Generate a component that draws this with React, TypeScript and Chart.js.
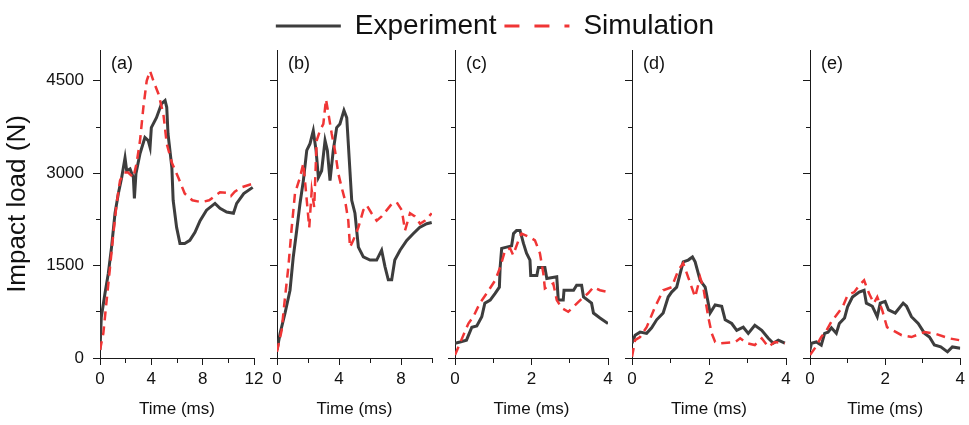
import React, { useEffect, useRef } from 'react';
import { Chart, registerables } from 'chart.js';

Chart.register(...registerables);

// ---------------- data ----------------
const SERIES_NAMES = ['Experiment', 'Simulation'];
const PANEL_LABELS = ['(a)', '(b)', '(c)', '(d)', '(e)'];
const X_MAXES = [12, 10, 4, 4, 4];

const X_TICKS_A = [0, 2, 4, 6, 8, 10, 12];
const X_LABELS_A = [0, 4, 8, 12];
const X_TICKS_B = [0, 2, 4, 6, 8, 10];
const X_LABELS_B = [0, 4, 8];
const X_TICKS_CDE = [0, 1, 2, 3, 4];
const X_LABELS_CDE = [0, 2, 4];

const Y_TICKS = [0, 750, 1500, 2250, 3000, 3750, 4500];
const Y_LABELS = [0, 1500, 3000, 4500];
const Y_MAX = 5000;

const A_EXP_T = [0, 0.1, 0.39, 0.65, 0.9, 1.17, 1.43, 1.69, 1.95, 2.08, 2.34, 2.6, 2.68, 2.8, 3.12, 3.5, 3.76, 3.9, 4.0, 4.4, 4.8, 5.07, 5.2, 5.3, 5.6, 5.7, 5.97, 6.23, 6.6, 7.0, 7.4, 7.8, 8.3, 8.96, 9.35, 9.87, 10.4, 10.65, 11.2, 11.9];
const A_EXP_V = [130, 660, 1050, 1375, 1800, 2350, 2670, 2930, 3250, 3040, 3070, 2930, 2590, 2990, 3320, 3580, 3530, 3420, 3740, 3900, 4130, 4180, 4070, 3640, 3090, 2560, 2120, 1860, 1860, 1910, 2040, 2230, 2400, 2510, 2430, 2370, 2350, 2510, 2670, 2770];
const A_SIM_T = [0, 0.26, 0.52, 0.78, 1.04, 1.3, 1.56, 1.87, 2.2, 2.6, 2.85, 3.12, 3.38, 3.64, 3.9, 4.16, 4.55, 4.94, 5.2, 5.6, 6.1, 6.6, 7.2, 7.9, 8.5, 9.35, 9.9, 10.2, 10.5, 11, 11.9];
const A_SIM_V = [130, 400, 940, 1470, 2020, 2510, 2880, 3010, 3010, 2930, 3160, 3530, 4070, 4500, 4660, 4500, 4290, 3960, 3480, 3170, 2930, 2670, 2560, 2530, 2560, 2690, 2680, 2630, 2700, 2770, 2830];

const B_EXP_T = [0, 0.2, 0.52, 0.84, 1.05, 1.27, 1.48, 1.7, 1.92, 2.13, 2.34, 2.52, 2.67, 2.88, 3.1, 3.25, 3.42, 3.63, 3.85, 4.06, 4.32, 4.5, 4.82, 5.03, 5.25, 5.57, 6.0, 6.43, 6.75, 6.97, 7.18, 7.4, 7.6, 7.94, 8.37, 8.8, 9.2, 9.66, 9.98];
const B_EXP_V = [130, 400, 730, 1100, 1640, 2070, 2500, 2880, 3370, 3480, 3690, 3370, 2930, 3040, 3530, 3370, 2880, 3370, 3740, 3800, 4020, 3900, 2560, 2350, 1800, 1640, 1590, 1590, 1750, 1480, 1270, 1270, 1590, 1750, 1910, 2020, 2120, 2180, 2200];
const B_SIM_T = [0, 0.3, 0.52, 0.73, 0.95, 1.16, 1.48, 1.7, 1.92, 2.08, 2.24, 2.4, 2.56, 2.77, 2.99, 3.16, 3.31, 3.53, 3.74, 3.96, 4.17, 4.39, 4.6, 4.71, 4.92, 5.25, 5.57, 5.79, 6.1, 6.43, 6.75, 7.08, 7.4, 7.72, 8.05, 8.26, 8.58, 8.9, 9.23, 9.55, 9.98];
const B_SIM_V = [100, 450, 990, 1470, 2120, 2670, 2930, 3160, 2560, 2120, 2720, 2450, 3530, 3690, 3800, 4200, 3980, 3640, 3370, 2990, 2770, 2560, 2230, 1800, 1910, 2120, 2400, 2480, 2350, 2230, 2300, 2400, 2500, 2530, 2400, 2070, 2350, 2300, 2180, 2230, 2350];

const C_EXP_T = [0, 0.13, 0.3, 0.44, 0.57, 0.7, 0.78, 0.92, 1.05, 1.16, 1.18, 1.22, 1.35, 1.48, 1.53, 1.61, 1.7, 1.79, 1.87, 1.96, 1.98, 2.14, 2.18, 2.35, 2.4, 2.66, 2.7, 2.83, 2.85, 3.1, 3.18, 3.31, 3.36, 3.57, 3.62, 3.79, 4.0];
const C_EXP_V = [240, 260, 290, 500, 520, 670, 890, 940, 1050, 1150, 1470, 1780, 1800, 1820, 2020, 2070, 2070, 1860, 1700, 1590, 1340, 1340, 1470, 1470, 1290, 1320, 940, 940, 1100, 1100, 1180, 1180, 990, 890, 730, 650, 560];
const C_SIM_T = [0, 0.13, 0.35, 0.48, 0.65, 0.83, 1.05, 1.18, 1.31, 1.44, 1.52, 1.66, 1.74, 1.96, 2.09, 2.22, 2.31, 2.35, 2.57, 2.66, 2.79, 2.96, 3.36, 3.48, 3.62, 3.79, 4.0];
const C_SIM_V = [50, 240, 560, 670, 890, 1050, 1260, 1470, 1750, 1780, 1670, 1910, 2020, 1960, 1910, 1700, 1370, 1130, 1210, 940, 810, 750, 990, 1050, 1150, 1100, 1070];

const D_EXP_T = [0, 0.08, 0.21, 0.38, 0.51, 0.64, 0.81, 0.94, 1.03, 1.16, 1.25, 1.33, 1.46, 1.57, 1.64, 1.77, 1.9, 2.03, 2.16, 2.33, 2.42, 2.59, 2.72, 2.89, 3.02, 3.19, 3.37, 3.54, 3.67, 3.8, 3.97];
const D_EXP_V = [240, 370, 420, 400, 490, 620, 730, 990, 1070, 1150, 1370, 1560, 1590, 1640, 1560, 1260, 1150, 730, 860, 840, 620, 560, 450, 500, 400, 530, 450, 320, 240, 290, 240];
const D_SIM_T = [0, 0.08, 0.21, 0.38, 0.6, 0.81, 1.03, 1.2, 1.33, 1.46, 1.64, 1.77, 1.85, 1.98, 2.07, 2.16, 2.29, 2.68, 2.81, 2.98, 3.19, 3.37, 3.54, 3.71, 3.97];
const D_SIM_V = [20, 290, 340, 500, 830, 1100, 1150, 1420, 1540, 1310, 990, 1310, 1150, 670, 400, 260, 240, 260, 320, 240, 210, 320, 180, 260, 240];

const E_EXP_T = [0, 0.04, 0.17, 0.3, 0.39, 0.48, 0.57, 0.7, 0.78, 0.92, 1.0, 1.13, 1.31, 1.44, 1.5, 1.66, 1.79, 1.87, 2.0, 2.09, 2.27, 2.48, 2.57, 2.7, 2.88, 3.05, 3.18, 3.31, 3.48, 3.66, 3.79, 4.0];
const E_EXP_V = [130, 240, 260, 210, 400, 420, 490, 400, 560, 650, 830, 990, 1070, 1100, 890, 840, 670, 890, 920, 780, 730, 890, 840, 670, 560, 400, 340, 210, 180, 100, 180, 160];
const E_SIM_T = [0, 0.13, 0.3, 0.44, 0.57, 0.87, 1.0, 1.18, 1.31, 1.44, 1.57, 1.7, 1.79, 1.92, 2.05, 2.44, 2.7, 3.05, 3.31, 3.7, 3.97];
const E_SIM_V = [50, 160, 340, 450, 590, 830, 1020, 1070, 1180, 1260, 1050, 890, 990, 780, 500, 370, 340, 420, 400, 320, 290];

const EXP_T = [A_EXP_T, B_EXP_T, C_EXP_T, D_EXP_T, E_EXP_T];
const EXP_V = [A_EXP_V, B_EXP_V, C_EXP_V, D_EXP_V, E_EXP_V];
const SIM_T = [A_SIM_T, B_SIM_T, C_SIM_T, D_SIM_T, E_SIM_T];
const SIM_V = [A_SIM_V, B_SIM_V, C_SIM_V, D_SIM_V, E_SIM_V];
const X_TICKS = [X_TICKS_A, X_TICKS_B, X_TICKS_CDE, X_TICKS_CDE, X_TICKS_CDE];
const X_LABELS = [X_LABELS_A, X_LABELS_B, X_LABELS_CDE, X_LABELS_CDE, X_LABELS_CDE];

// ---------------- layout & style ----------------
const W = 969;
const H = 425;
const PLOT_LEFT = [100, 277, 455, 632, 810];
const PLOT_RIGHT = [254, 432, 608, 786, 963];
const PLOT_TOP = 50;
const PLOT_BOTTOM = 358;
const X_AXIS_H = 62;
const FONT = '"Liberation Sans", Arial, sans-serif';
const EXP_COLOR = '#3d3d3d';
const SIM_COLOR = '#f03535';
const AXIS_COLOR = '#1a1a1a';
const TEXT_COLOR = '#111';
const TICK_LEN = 7;

const zip = (t: number[], v: number[]) => t.map((x, k) => ({ x, y: v[k] }));

const panelLabelPlugin = {
  id: 'panelLabel',
  afterDraw(chart: any, _args: any, opts: any) {
    const { ctx, chartArea } = chart;
    ctx.save();
    ctx.font = `18px ${FONT}`;
    ctx.fillStyle = TEXT_COLOR;
    ctx.textAlign = 'left';
    ctx.textBaseline = 'middle';
    ctx.fillText(opts.text, chartArea.left + 11, chartArea.top + 14);
    ctx.restore();
  },
};

function buildConfig(i: number): any {
  const isFirst = i === 0;
  const isLast = i === 4;
  const L = PLOT_LEFT[i];
  const R = PLOT_RIGHT[i];
  const padLeft = isFirst ? 2 : isLast ? 27 : 10;
  const yWidth = L - padLeft;
  const xLabeled = X_LABELS[i];

  return {
    type: 'line',
    data: {
      datasets: [
        {
          label: SERIES_NAMES[0],
          data: zip(EXP_T[i], EXP_V[i]),
          borderColor: EXP_COLOR,
          backgroundColor: EXP_COLOR,
          borderWidth: 3,
          pointRadius: 0,
          tension: 0,
          order: 2,
        },
        {
          label: SERIES_NAMES[1],
          data: zip(SIM_T[i], SIM_V[i]),
          borderColor: SIM_COLOR,
          backgroundColor: SIM_COLOR,
          borderWidth: 2.5,
          borderDash: [9, 6],
          pointRadius: 0,
          tension: 0,
          order: 1,
        },
      ],
    },
    options: {
      responsive: false,
      animation: false,
      events: [],
      layout: {
        padding: {
          left: padLeft,
          right: W - R,
          top: isLast ? 4 : PLOT_TOP,
          bottom: H - PLOT_BOTTOM - X_AXIS_H,
        },
      },
      plugins: {
        tooltip: { enabled: false },
        panelLabel: { text: PANEL_LABELS[i] },
        legend: {
          display: isLast,
          position: 'top',
          align: 'center',
          labels: {
            usePointStyle: true,
            pointStyleWidth: 65,
            padding: 8,
            color: TEXT_COLOR,
            font: { family: FONT, size: 28 },
            generateLabels: (chart: any) =>
              chart.data.datasets.map((ds: any, idx: number) => ({
                text: ds.label,
                fillStyle: 'rgba(0,0,0,0)',
                strokeStyle: ds.borderColor,
                fontColor: TEXT_COLOR,
                lineWidth: 3,
                lineDash: idx === 1 ? [15, 15] : [],
                lineDashOffset: 0,
                pointStyle: 'line',
                hidden: false,
                datasetIndex: idx,
              })),
          },
        },
      },
      scales: {
        x: {
          type: 'linear',
          min: 0,
          max: X_MAXES[i],
          afterBuildTicks: (s: any) => {
            s.ticks = X_TICKS[i].map((v) => ({ value: v }));
          },
          afterFit: (s: any) => {
            s.height = X_AXIS_H;
          },
          border: { display: true, color: AXIS_COLOR, width: 1 },
          grid: {
            display: true,
            drawOnChartArea: false,
            drawTicks: true,
            tickLength: TICK_LEN,
            tickColor: AXIS_COLOR,
            tickWidth: 1,
            tickBorderDash: (c: any) => (c.tick && xLabeled.includes(c.tick.value) ? [] : [4, 10]),
          },
          ticks: {
            autoSkip: false,
            maxRotation: 0,
            padding: 4,
            color: TEXT_COLOR,
            font: { family: FONT, size: 17 },
            callback: (v: any) => (xLabeled.includes(Number(v)) ? String(v) : ''),
          },
          title: {
            display: true,
            text: 'Time (ms)',
            color: TEXT_COLOR,
            font: { family: FONT, size: 17 },
            padding: { top: 0, bottom: 0 },
          },
        },
        y: {
          type: 'linear',
          position: 'left',
          min: 0,
          max: Y_MAX,
          afterBuildTicks: (s: any) => {
            s.ticks = Y_TICKS.map((v) => ({ value: v }));
          },
          afterFit: (s: any) => {
            s.width = yWidth;
          },
          border: { display: true, color: AXIS_COLOR, width: 1 },
          grid: {
            display: true,
            drawOnChartArea: false,
            drawTicks: true,
            tickLength: TICK_LEN,
            tickColor: AXIS_COLOR,
            tickWidth: 1,
            tickBorderDash: (c: any) => (c.tick && Y_LABELS.includes(c.tick.value) ? [] : [4, 3]),
            tickBorderDashOffset: (c: any) => (c.tick && Y_LABELS.includes(c.tick.value) ? 0 : 4),
          },
          ticks: {
            display: isFirst,
            autoSkip: false,
            padding: 9,
            color: TEXT_COLOR,
            font: { family: FONT, size: 17 },
            callback: (v: any) => (Y_LABELS.includes(Number(v)) ? String(v) : ''),
          },
          title: {
            display: isFirst,
            text: 'Impact load (N)',
            color: TEXT_COLOR,
            font: { family: FONT, size: 26 },
            padding: { top: 0, bottom: 0 },
          },
        },
      },
    },
    plugins: [panelLabelPlugin],
  };
}

export default function App() {
  const refs = useRef<(HTMLCanvasElement | null)[]>([]);

  useEffect(() => {
    const charts = PANEL_LABELS.map((_, i) => new Chart(refs.current[i] as HTMLCanvasElement, buildConfig(i)));
    charts.forEach((c: any) => {
      const d = PLOT_TOP - c.chartArea.top;
      if (Math.abs(d) > 0.01) {
        c.options.layout.padding.top += d;
        c.update();
      }
    });
    return () => charts.forEach((c) => c.destroy());
  }, []);

  return (
    <div style={{ position: 'fixed', left: 0, top: 0, width: W, height: H, background: '#fff' }}>
      {PANEL_LABELS.map((_, i) => (
        <canvas
          key={i}
          ref={(el) => {
            refs.current[i] = el;
          }}
          width={W}
          height={H}
          style={{ position: 'absolute', left: 0, top: 0, width: W, height: H }}
        />
      ))}
    </div>
  );
}
